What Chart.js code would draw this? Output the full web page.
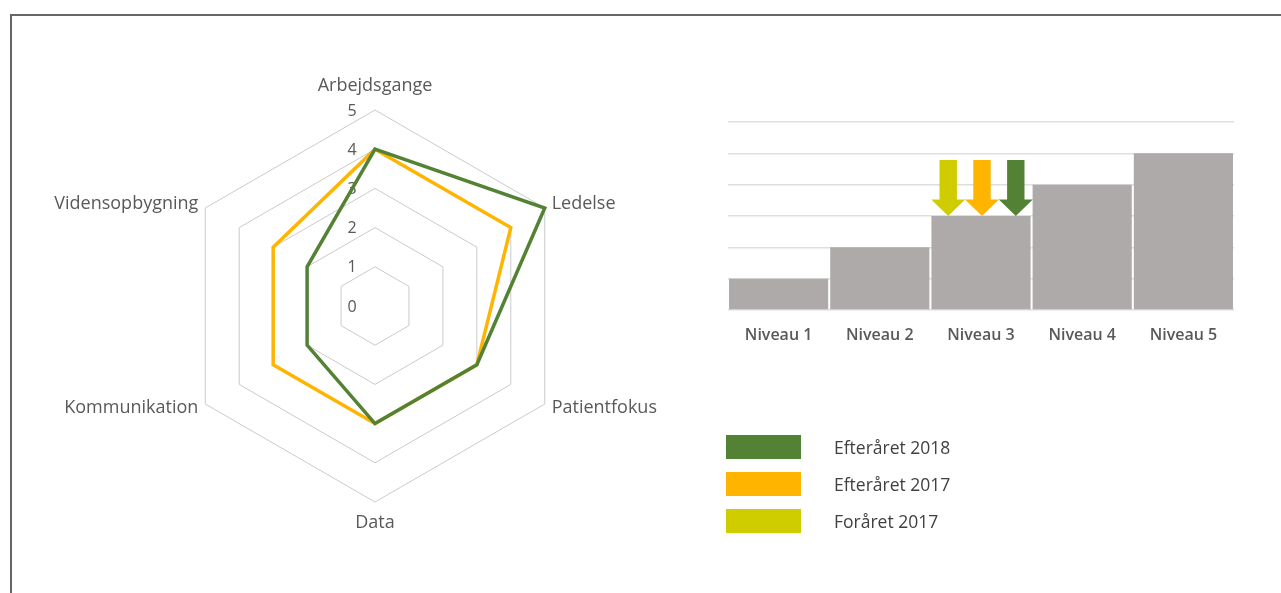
<!DOCTYPE html>
<html>
<head>
<meta charset="utf-8">
<script src="https://cdn.jsdelivr.net/npm/chart.js@4.4.1/dist/chart.umd.min.js"></script>
<style>
  html, body { margin: 0; background: #fff; overflow: hidden; font-family: "Open Sans", sans-serif; }
  #frame { position: absolute; left: 10px; top: 14px; width: 1300px; height: 620px; border-top: 2px solid #666; border-left: 2px solid #666; }
  #radar { position: absolute; left: 0; top: 0; }
  #bars { position: absolute; left: 700px; top: 100px; }
  #legend { position: absolute; left: 726px; top: 435px; }
  .item { display: flex; align-items: center; height: 24px; margin-bottom: 13.2px; }
  .box { width: 75px; height: 24px; }
  .txt { margin-left: 33px; font-size: 17.5px; color: #404040; }
</style>
</head>
<body>
<div id="frame"></div>
<canvas id="radar" width="1281" height="593"></canvas>
<canvas id="bars" width="560" height="260"></canvas>
<div id="legend"></div>
<script>
// radar: score per area, 0-5
const areas = ['Arbejdsgange', 'Ledelse', 'Patientfokus', 'Data', 'Kommunikation', 'Vidensopbygning'];
const autumn2018 = [4, 5, 3, 3, 2, 2];
const autumn2017 = [4, 4, 3, 3, 3, 3];
const scoreTicks = [0, 1, 2, 3, 4, 5];

// staircase of levels
const levelNames = ['Niveau 1', 'Niveau 2', 'Niveau 3', 'Niveau 4', 'Niveau 5'];
const levelHeights = [1, 2, 3, 4, 5];

// measurement rounds and the level each one reached
const periods = ['Efteråret 2018', 'Efteråret 2017', 'Foråret 2017'];
const periodColors = ['#548235', '#FFB400', '#CFCD00'];
const periodLevel = [3, 3, 3];

const grey = '#595959';

const radarText = {
  id: 'radarText',
  beforeDatasetsDraw(chart) {
    const r = chart.scales.r;
    const ctx = chart.ctx;
    ctx.save();
    ctx.fillStyle = grey;
    ctx.textBaseline = 'middle';
    ctx.textAlign = 'center';
    ctx.font = '16px "Open Sans"';
    scoreTicks.forEach(v => {
      ctx.fillText(String(v), r.xCenter - 23, r.yCenter - r.getDistanceFromCenterForValue(v) + 1);
    });
    ctx.font = '18px "Open Sans"';
    areas.forEach((name, i) => {
      const p = r.getPointPosition(i, r.drawingArea + 8);
      const dx = p.x - r.xCenter;
      if (Math.abs(dx) < 1) {
        ctx.textAlign = 'center';
        ctx.fillText(name, p.x, p.y < r.yCenter ? p.y - 16 : p.y + 13);
      } else {
        ctx.textAlign = dx > 0 ? 'left' : 'right';
        ctx.fillText(name, p.x, p.y);
      }
    });
    ctx.restore();
  }
};

new Chart('radar', {
  type: 'radar',
  data: {
    labels: areas,
    datasets: [
      { label: periods[0], data: autumn2018, borderColor: periodColors[0] },
      { label: periods[1], data: autumn2017, borderColor: periodColors[1] }
    ]
  },
  options: {
    responsive: false,
    animation: false,
    layout: { padding: { left: 179, top: 110, right: 710, bottom: 91 } },
    elements: {
      line: { borderWidth: 3.5, fill: false, tension: 0, borderJoinStyle: 'miter' },
      point: { radius: 0, hoverRadius: 0 }
    },
    plugins: { legend: { display: false }, tooltip: { enabled: false } },
    scales: {
      r: {
        min: 0,
        max: 5,
        ticks: { display: false, stepSize: 1 },
        pointLabels: { display: false },
        angleLines: { display: false },
        grid: { color: '#cacaca', lineWidth: 1 }
      }
    }
  },
  plugins: [radarText]
});

// down arrows pointing at the level reached
const levelArrows = {
  id: 'levelArrows',
  afterDatasetsDraw(chart) {
    const { ctx, scales: { x, y } } = chart;
    ctx.save();
    periods.forEach((name, k) => {
      const slot = periods.length - 1 - k;
      const lvl = periodLevel[k];
      const tipX = x.getPixelForValue(lvl - 1) + (slot - 1) * 33.8 + 1;
      const tipY = y.getPixelForValue(levelHeights[lvl - 1]);
      ctx.fillStyle = periodColors[k];
      ctx.beginPath();
      ctx.moveTo(tipX - 8.7, tipY - 56);
      ctx.lineTo(tipX + 8.7, tipY - 56);
      ctx.lineTo(tipX + 8.7, tipY - 16.5);
      ctx.lineTo(tipX + 17, tipY - 16.5);
      ctx.lineTo(tipX, tipY);
      ctx.lineTo(tipX - 17, tipY - 16.5);
      ctx.lineTo(tipX - 8.7, tipY - 16.5);
      ctx.closePath();
      ctx.fill();
    });
    ctx.restore();
  }
};

new Chart('bars', {
  type: 'bar',
  data: {
    labels: levelNames,
    datasets: [{
      data: levelHeights,
      backgroundColor: '#AEAAAA',
      borderWidth: 0,
      barPercentage: 0.98,
      categoryPercentage: 1
    }]
  },
  options: {
    responsive: false,
    animation: false,
    layout: { padding: { left: 28, right: 26, top: 22, bottom: 10 } },
    plugins: { legend: { display: false }, tooltip: { enabled: false } },
    scales: {
      x: {
        grid: { display: false },
        border: { display: false },
        ticks: { color: grey, font: { family: '"Open Sans"', size: 16, weight: '600' }, padding: 8 },
        afterFit(s) { s.height = 40; }
      },
      y: {
        min: 0,
        max: 6,
        ticks: { display: false, stepSize: 1 },
        border: { display: false },
        grid: { color: '#dedede', lineWidth: 1.5, drawTicks: false }
      }
    }
  },
  plugins: [levelArrows]
});

const legend = document.getElementById('legend');
periods.forEach((name, k) => {
  const item = document.createElement('div');
  item.className = 'item';
  item.innerHTML = '<div class="box" style="background:' + periodColors[k] + '"></div><span class="txt">' + name + '</span>';
  legend.appendChild(item);
});
</script>
</body>
</html>
